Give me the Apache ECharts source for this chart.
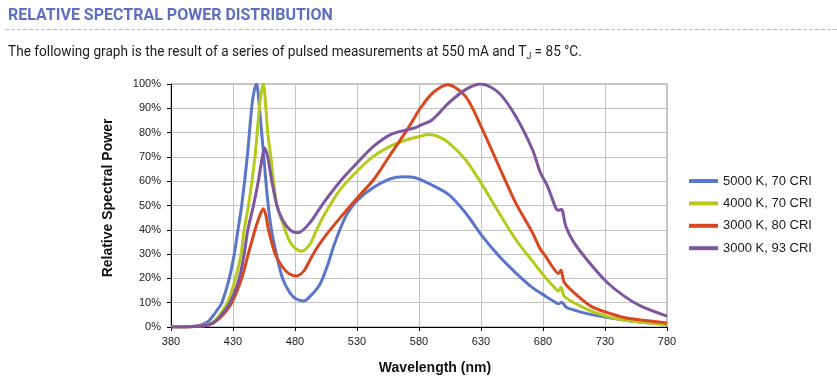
<!DOCTYPE html>
<html>
<head>
<meta charset="utf-8">
<script src="https://cdn.jsdelivr.net/npm/echarts@6/dist/echarts.min.js"></script>
<style>
html,body{margin:0;padding:0;background:#fff;}
#chart{width:837px;height:392px;}
</style>
</head>
<body>
<div id="chart"></div>
<script>
// ---- data (wavelength in nm, relative power in %) ----
const seriesNames = ['5000 K, 70 CRI', '4000 K, 70 CRI', '3000 K, 80 CRI', '3000 K, 93 CRI'];

const blueNm  = [380,390,400,405,410,413,417,421,427,431,434,437,441.5,445,447,449,451,454.5,458,461,465,470,476,481,487,492,500,506,511,516.5,522,530,543.5,557,567,577,590,604,617.5,631,644.5,658,671.5,682,688,692.5,695,699,705,713,730,745,760,780];
const blueVal = [0,0,0.4,1,2.3,4,6.8,10,20,30,40,50,70,90,97,100,92,72,52,40,30,20,14,11.5,10.7,12.5,17.5,25,33,40.5,46.5,52,57.5,61,61.8,61.4,58.5,54.5,47,37.4,29.2,22.3,16.2,12.7,10.8,9.6,10.2,8,7,5.8,4.1,2.9,2,1];

const greenNm  = [380,390,400,405,410,415,420,425.5,432,436.5,439,442.5,447.7,451.2,453,454.5,456.5,458,460.5,462.7,465.5,472,476,480,485,492,497,503,516.5,530,543.5,557,570.5,581,588,595,604,617.5,630,644.5,658,671.5,682,688,692.5,694.5,697,705,718.5,732,745.5,759,780];
const greenVal = [0,0,0.2,0.5,1,2.5,5.5,10,20,30,40,50,70,90,97,100,90,80,70,60,50,40,35,32.5,31.2,34,39.5,45.6,56.6,64.1,70.3,74.4,77.1,78.5,79.2,78.5,75.8,68.9,59.3,47,36,27.1,20.3,17,14.8,16.4,12.7,10,6.6,4.3,2.9,2,1.2];

const redNm  = [380,390,400,405,410,415,421,429,437,442.3,447.8,451,454.5,456.5,458.6,464,469.5,475,481,487,492,497,503,516.5,530,543.5,557,570.5,577,581,591,603,617.5,630,644.5,658,671.5,678,682,688,692.5,694.5,697,705,718.5,732,745.5,759,780];
const redVal = [0,0,0.2,0.4,0.8,2,4.5,10,20,30,40,45,48.7,46,40,30,25,22,21,23,27.5,32,36.5,45,53,60.7,71,81.2,86.7,90,96.3,99.7,94.9,82.6,66.1,51.1,38.8,31.9,29.2,24.5,22,23.4,18.5,14.1,8.6,5.9,3.9,2.9,1.6];

const purpleNm  = [380,390,400,405,410,415,420,427.6,435,439,442,446.5,450.4,453,455.5,458,461.3,465.4,470,476,482.5,492,503,516.5,530,543.5,557,570.5,577,581,590.7,604,617.5,630,644.5,658,671.5,678,683.6,690.3,692.5,694.8,698.4,705,718.5,732,745.5,759,780];
const purpleVal = [0,0,0.2,0.4,0.8,2,4.5,10,20,30,40,50,60,68,73.7,70,60,50,44,40,38.8,42.9,51.1,60,67.5,74.4,79.2,81.2,82,83,85.3,92.2,97.7,100,96.3,86.7,73,63.4,58,49,48,48.5,41.5,34.7,25.8,18.2,12.7,8.6,4.5];

const xTicks = [380,430,480,530,580,630,680,730,780];
const yTicks = [0,10,20,30,40,50,60,70,80,90,100];

const colors = ['#5a76c8', '#b5cb1b', '#d8471e', '#7e56a0'];

function zip(a, b) { return a.map((v, i) => [v, b[i]]); }
const allData = [zip(blueNm, blueVal), zip(greenNm, greenVal), zip(redNm, redVal), zip(purpleNm, purpleVal)];

const chart = echarts.init(document.getElementById('chart'), null, {renderer: 'canvas'});
const axisFont = '"Liberation Sans", Arial, sans-serif';

const option = {
  animation: false,
  backgroundColor: '#ffffff',
  color: colors,
  graphic: [
    { type: 'text', left: 8, top: 8,
      style: { text: 'RELATIVE SPECTRAL POWER DISTRIBUTION', font: 'bold 16px Roboto, sans-serif', fill: '#5e6fc3' } },
    { type: 'line', shape: { x1: 5, y1: 29.5, x2: 837, y2: 29.5 },
      style: { stroke: '#f4c20d', lineWidth: 1, lineDash: [4, 2] } },
    { type: 'text', x: 8, y: 44, scaleX: 0.975,
      style: { rich: { n: { fontFamily: 'Roboto, sans-serif', fontSize: 14, fill: '#1c1c1c' },
                       s: { fontFamily: 'Roboto, sans-serif', fontSize: 9, fill: '#1c1c1c', padding: [8, 0, 0, 0] } },
               text: '{n|The following graph is the result of a series of pulsed measurements at 550 mA and T}{s|J}{n| = 85 °C.}' } },
    { type: 'text', x: 108, y: 198, rotation: Math.PI / 2,
      style: { text: 'Relative Spectral Power', font: 'bold 14px "Liberation Sans", Arial, sans-serif', fill: '#111',
               align: 'center', verticalAlign: 'middle' } },
    { type: 'text', x: 435, y: 368,
      style: { text: 'Wavelength (nm)', font: 'bold 14px "Liberation Sans", Arial, sans-serif', fill: '#111',
               align: 'center', verticalAlign: 'middle' } }
  ],
  grid: { left: 171, right: 170, top: 84, bottom: 65, show: true, borderColor: '#8c8c8c', borderWidth: 1 },
  legend: {
    orient: 'vertical', left: 689, top: 174, padding: 0,
    icon: 'rect', itemWidth: 29, itemHeight: 4, itemGap: 8.4,
    textStyle: { fontFamily: axisFont, fontSize: 13, color: '#1a1a1a', lineHeight: 14 },
    data: seriesNames
  },
  xAxis: {
    type: 'value', min: xTicks[0], max: xTicks[xTicks.length - 1], interval: 50,
    axisLine: { lineStyle: { color: '#000', width: 1 } },
    axisTick: { show: true, length: 4, lineStyle: { color: '#000' } },
    axisLabel: { fontFamily: axisFont, fontSize: 11, color: '#1a1a1a', margin: 9 },
    splitLine: { show: true, lineStyle: { color: '#c3c3c3', width: 1 } }
  },
  yAxis: {
    type: 'value', min: yTicks[0], max: yTicks[yTicks.length - 1], interval: 10,
    axisLine: { show: true, lineStyle: { color: '#000', width: 1 } },
    axisTick: { show: true, length: 4, lineStyle: { color: '#000' } },
    axisLabel: { fontFamily: axisFont, fontSize: 11, color: '#1a1a1a', margin: 10, formatter: '{value}%' },
    splitLine: { show: true, lineStyle: { color: '#c3c3c3', width: 1 } }
  },
  series: seriesNames.map((name, i) => ({
    name: name, type: 'line', data: allData[i],
    smooth: 0.3, showSymbol: false, symbol: 'none',
    lineStyle: { width: 3, color: colors[i] }, itemStyle: { color: colors[i] },
    z: 2 + i
  }))
};
chart.setOption(option);
</script>
</body>
</html>
